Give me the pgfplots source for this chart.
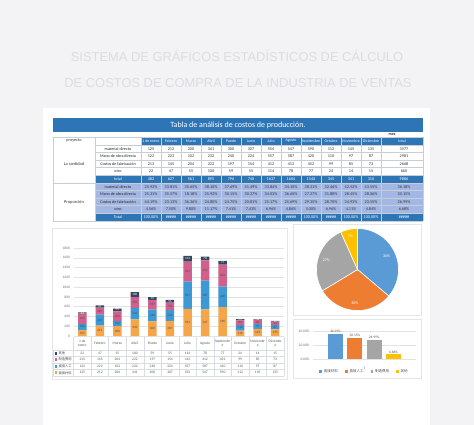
\documentclass[border=0pt]{standalone}
\usepackage{pgfplots}
\pgfplotsset{compat=1.18}
\usepackage{pgfplotstable}
\usepgfplotslibrary{polar}
\usepackage{fontspec}
\setmainfont{Carlito}
\newfontfamily\titlefont{Liberation Sans}
\newfontfamily\cjk{Noto Sans CJK SC}

\definecolor{pagebg}{HTML}{F3F3F5}
\definecolor{titlegray}{HTML}{DCDCE3}
\definecolor{hdrblue}{HTML}{2E75B6}
\definecolor{propblue}{HTML}{A3B7E4}
\definecolor{tline}{HTML}{C9CED6}
\definecolor{gridgray}{HTML}{E3E3E3}
\definecolor{panelline}{HTML}{E6E6E6}
\definecolor{matorange}{HTML}{F5A54A}
\definecolor{manblue}{HTML}{3D98D6}
\definecolor{cospink}{HTML}{D2608C}
\definecolor{otrnavy}{HTML}{35475C}
\definecolor{pieblue}{HTML}{5B9BD5}
\definecolor{pieorange}{HTML}{ED7D31}
\definecolor{piegray}{HTML}{A5A5A5}
\definecolor{pieyellow}{HTML}{FFC000}

\newcommand\fsz[1]{\fontsize{#1}{#1}\selectfont}

% monthly costs: materials, labour, manufacturing overhead, other
\pgfplotstableread{
x  mat man cos otr
0  125 122 213  22
1  212 223 145  47
2  200 102 204  55
3  341 232 222 100
4  300 240 197  59
5  307 224 154  55
6  554 557 412 114
7  547 587 412  78
8  590 420 452  77
9  112 110  99  24
10 145  97  85  14
11 135  87  73  15
}\costdata

% one row of the summary table: y position, values, text colour
\newcommand\rowvals[3]{%
  \foreach \v [count=\i from 0] in {#2} {%
    \pgfmathsetmacro\cx{\i<12 ? 151+20*\i : 404}%
    \node[font=\fsz{4.2}, text=#3, inner sep=0pt] at (\cx,#1) {\v};
  }}

\begin{document}
\begin{tikzpicture}
\begin{scope}[x=1pt,y=-1pt]
\useasboundingbox (0,0) rectangle (474,425);
\fill[pagebg] (0,0) rectangle (474,425);
\fill[white] (43,108) rectangle (430,425);

\node[text=titlegray, font=\titlefont\fsz{12.9}] at (237,56) {SISTEMA DE GRÁFICOS ESTADÍSTICOS DE CÁLCULO};
\node[text=titlegray, font=\titlefont\fsz{12.9}] at (238,83) {DE COSTOS DE COMPRA DE LA INDUSTRIA DE VENTAS};

% table title bar
\fill[hdrblue] (53,118) rectangle (423,132);
\node[text=white, font=\fsz{8}] at (238,125) {Tabla de análisis de costos de producción.};
\node[font=\bfseries\fsz{4}, text=black!80] at (392,134.5) {mes};

% cell backgrounds
\fill[hdrblue] (141,137) rectangle (423,145);
\fill[hdrblue] (95,175) rectangle (423,183);
\fill[propblue] (95,183) rectangle (423,213);
\fill[hdrblue] (95,213) rectangle (423,221);

% grid
\foreach \yy in {145,152.5,160,167.5,175,190.5,198,205.5,213}
  \draw[tline, line width=0.3pt] (95,\yy) -- (423,\yy);
\foreach \yy in {137,183,221}
  \draw[tline, line width=0.3pt] (53,\yy) -- (423,\yy);
\foreach \xx in {53,95,381,423}
  \draw[tline, line width=0.3pt] (\xx,137) -- (\xx,221);
\foreach \xx in {141,161,...,361}
  \draw[tline, line width=0.3pt] (\xx,137) -- (\xx,221);

% header row
\node[font=\fsz{4.2}, text=black!80] at (74,141) {proyecto};
\foreach \m [count=\i from 0] in {1 de enero,Febrero,Marzo,Abril,Puede,Junio,Julio,Agosto,Septiembre,Octubre,Noviembre,Diciembre,total} {
  \pgfmathsetmacro\cx{\i<12 ? 151+20*\i : 402}
  \node[font=\fsz{3.9}, text=white, inner sep=0pt] at (\cx,141) {\m};
}

% quantities
\node[font=\fsz{4.4}, text=black!80] at (74,164) {La cantidad};
\node[font=\fsz{4.4}, text=black!80] at (74,202) {Proporción};
\foreach \lab/\yy in {material directo/149, Mano de obra directa/156.5, Costos de fabricación/164, otro/171.5,
                      material directo/187, Mano de obra directa/194, Costos de fabricación/202, otro/209.5}
  \node[font=\fsz{4.1}, text=black!85, inner sep=0pt] at (118,\yy) {\lab};
\node[font=\fsz{4.1}, text=white, inner sep=0pt] at (118,179) {total};
\node[font=\fsz{4.1}, text=white, inner sep=0pt] at (118,217) {Total};

\rowvals{149}{125,212,200,341,300,307,554,547,590,112,145,135,3577}{black!80}
\rowvals{156.5}{122,223,102,232,240,224,557,587,420,110,97,87,2981}{black!80}
\rowvals{164}{213,145,204,222,197,154,412,412,452,99,85,73,2668}{black!80}
\rowvals{171.5}{22,47,55,100,59,55,114,78,77,24,14,15,660}{black!80}
\rowvals{179}{482,627,561,895,796,740,1637,1604,1540,345,341,310,9886}{white}

% proportions
\rowvals{187}{25.93\%,33.81\%,35.65\%,38.10\%,37.69\%,41.49\%,33.84\%,34.10\%,38.31\%,32.46\%,42.52\%,43.55\%,36.18\%}{black!80}
\rowvals{194}{25.31\%,35.57\%,18.18\%,25.92\%,30.15\%,30.27\%,34.03\%,36.60\%,27.27\%,31.88\%,28.45\%,28.06\%,30.15\%}{black!80}
\rowvals{202}{44.19\%,23.13\%,36.36\%,24.80\%,24.75\%,20.81\%,25.17\%,25.69\%,29.35\%,28.70\%,24.93\%,23.55\%,26.99\%}{black!80}
\rowvals{209.5}{4.56\%,7.50\%,9.80\%,11.17\%,7.41\%,7.43\%,6.96\%,4.86\%,5.00\%,6.96\%,4.11\%,4.84\%,6.68\%}{black!80}
\rowvals{217}{100.00\%,\#\#\#\#\#,\#\#\#\#\#,\#\#\#\#\#,\#\#\#\#\#,\#\#\#\#\#,\#\#\#\#\#,\#\#\#\#\#,100.00\%,\#\#\#\#\#,100.00\%,100.00\%,\#\#\#\#\#}{white}

% chart panels
\draw[panelline, fill=white, line width=0.4pt] (52,228) rectangle (287,379);
\draw[panelline, fill=white, line width=0.4pt] (293,224) rectangle (421,315);
\draw[panelline, fill=white, line width=0.4pt] (293,319) rectangle (421,378);
\end{scope}

% stacked monthly costs
\begin{axis}[
  at={(73.5pt,-336pt)}, anchor=south west, scale only axis,
  width=210.5pt, height=88pt,
  ybar stacked, bar width=8.5pt,
  xmin=-0.5, xmax=11.5, ymin=0, ymax=1800,
  ytick={0,200,...,1800}, xtick=\empty,
  axis line style={draw=none}, tick style={draw=none},
  ymajorgrids, grid style={draw=gridgray, line width=0.4pt},
  yticklabel style={font=\fsz{3.6}, text=black!55},
  /pgf/number format/assume math mode=true,
  /pgf/number format/1000 sep={},
  scaled y ticks=false,
]
\addplot[fill=matorange, draw=none] table[x=x,y=mat]{\costdata};
\addplot[fill=manblue, draw=none] table[x=x,y=man]{\costdata};
\addplot[fill=cospink, draw=none] table[x=x,y=cos]{\costdata};
\addplot[fill=otrnavy, draw=none] table[x=x,y=otr]{\costdata};
\end{axis}

% value labels centred in each segment
\begin{axis}[
  at={(73.5pt,-336pt)}, anchor=south west, scale only axis,
  width=210.5pt, height=88pt, hide axis,
  xmin=-0.5, xmax=11.5, ymin=0, ymax=1800,
  nodes near coords, point meta=explicit,
  every node near coord/.append style={anchor=center, font=\fsz{3.3}, text=black!70, inner sep=0pt},
  /pgf/number format/assume math mode=true,
  clip=false,
]
\addplot[draw=none] table[x=x, y expr=\thisrow{mat}/2, meta=mat]{\costdata};
\addplot[draw=none] table[x=x, y expr=\thisrow{mat}+\thisrow{man}/2, meta=man]{\costdata};
\addplot[draw=none] table[x=x, y expr=\thisrow{mat}+\thisrow{man}+\thisrow{cos}/2, meta=cos]{\costdata};
\addplot[draw=none, every node near coord/.append style={text=white}]
  table[x=x, y expr=\thisrow{mat}+\thisrow{man}+\thisrow{cos}+\thisrow{otr}/2, meta=otr]{\costdata};
\end{axis}

% share of total cost
\pgfmathsetmacro\bA{90-3.6*36.19}
\pgfmathsetmacro\bB{\bA-3.6*30.15}
\pgfmathsetmacro\bC{\bB-3.6*26.99}
\pgfmathsetmacro\bD{\bC-3.6*6.68}
\begin{polaraxis}[
  at={(357.5pt,-269.5pt)}, anchor=center, scale only axis,
  width=82pt, height=82pt, hide axis, ymin=0, ymax=1, clip=false,
]
\addplot[fill=pieblue, draw=white, line width=0.6pt, domain=\bA:90, samples=60] {1} -- (axis cs:0,0) -- cycle;
\addplot[fill=pieorange, draw=white, line width=0.6pt, domain=\bB:\bA, samples=60] {1} -- (axis cs:0,0) -- cycle;
\addplot[fill=piegray, draw=white, line width=0.6pt, domain=\bC:\bB, samples=60] {1} -- (axis cs:0,0) -- cycle;
\addplot[fill=pieyellow, draw=white, line width=0.6pt, domain=\bD:\bC, samples=20] {1} -- (axis cs:0,0) -- cycle;
\node[text=white, font=\fsz{4}] at (axis cs:{(90+\bA)/2},0.78) {36\%};
\node[text=white, font=\fsz{4}] at (axis cs:{(\bA+\bB)/2},0.82) {30\%};
\node[text=white, font=\fsz{4}] at (axis cs:{(\bB+\bC)/2},0.8) {27\%};
\node[text=white, font=\fsz{4}] at (axis cs:{(\bC+\bD)/2},0.84) {7\%};
\end{polaraxis}

% share of total cost, as bars
\begin{axis}[
  at={(313pt,-359pt)}, anchor=south west, scale only axis,
  width=103pt, height=28pt,
  ybar=4.33pt, bar width=15pt,
  xmin=0.5, xmax=1.5, ymin=0, ymax=40,
  ytick={0,20,40}, yticklabels={0.00\%,20.00\%,40.00\%},
  xtick={1}, xticklabels={1},
  axis line style={draw=none}, tick style={draw=none},
  ymajorgrids, grid style={draw=gridgray, line width=0.4pt},
  ticklabel style={font=\fsz{3.6}, text=black!55},
  nodes near coords, point meta=explicit symbolic,
  every node near coord/.append style={font=\fsz{3.5}, text=black!65, inner sep=1pt},
  legend style={at={(0.5,-0.3)}, anchor=north, legend columns=4, draw=none, fill=none,
    font=\cjk\fsz{3.5}, text=black!70, inner sep=0pt,
    /tikz/every even column/.append style={column sep=5pt}},
  legend image code/.code={\fill[#1] (0pt,-1.2pt) rectangle (2.6pt,1.4pt);},
  clip=false,
]
\addplot[fill=pieblue, draw=none] coordinates {(1,36.19) [36.19\%]};
\addplot[fill=pieorange, draw=none] coordinates {(1,30.15) [30.15\%]};
\addplot[fill=piegray, draw=none] coordinates {(1,26.99) [26.99\%]};
\addplot[fill=pieyellow, draw=none] coordinates {(1,6.68) [6.68\%]};
\legend{直接材料,直接人工,制造费用,其他}
\end{axis}

% data table beneath the stacked chart
\begin{scope}[x=1pt,y=-1pt]
\foreach \k in {0,...,12}
  \draw[tline!70, line width=0.3pt] ({73.5+17.54*\k},337) -- ({73.5+17.54*\k},376);
\foreach \yy in {350,356.5,363,369.5,376}
  \draw[tline!70, line width=0.3pt] (53,\yy) -- (284,\yy);
\draw[tline!70, line width=0.3pt] (53,350) -- (53,376);
\foreach \lab [count=\i from 0] in {{1 de\\enero},Febrero,Marzo,Abril,Puede,Junio,Julio,Agosto,{Septiembr\\e},Octubre,{Noviembr\\e},{Diciembr\\e}}
  \node[align=center, font=\fsz{3.6}, text=black!65, inner sep=0pt] at ({82.3+17.54*\i},343.5) {\lab};
\foreach \col/\yy/\clr/\nm in {otr/353.25/otrnavy/其他, cos/359.75/cospink/制造费用, man/366.25/manblue/直接人工, mat/372.75/matorange/直接材料} {
  \fill[\clr] (54.5,\yy-1.4) rectangle (57.3,\yy+1.4);
  \node[anchor=west, font=\cjk\fsz{3.3}, text=black!70, inner sep=0pt] at (58.3,\yy) {\nm};
  \foreach \i in {0,...,11} {
    \pgfplotstablegetelem{\i}{\col}\of\costdata
    \node[font=\fsz{3.6}, text=black!65, inner sep=0pt] at ({82.3+17.54*\i},\yy) {\pgfplotsretval};
  }
}
\end{scope}
\end{tikzpicture}
\end{document}
